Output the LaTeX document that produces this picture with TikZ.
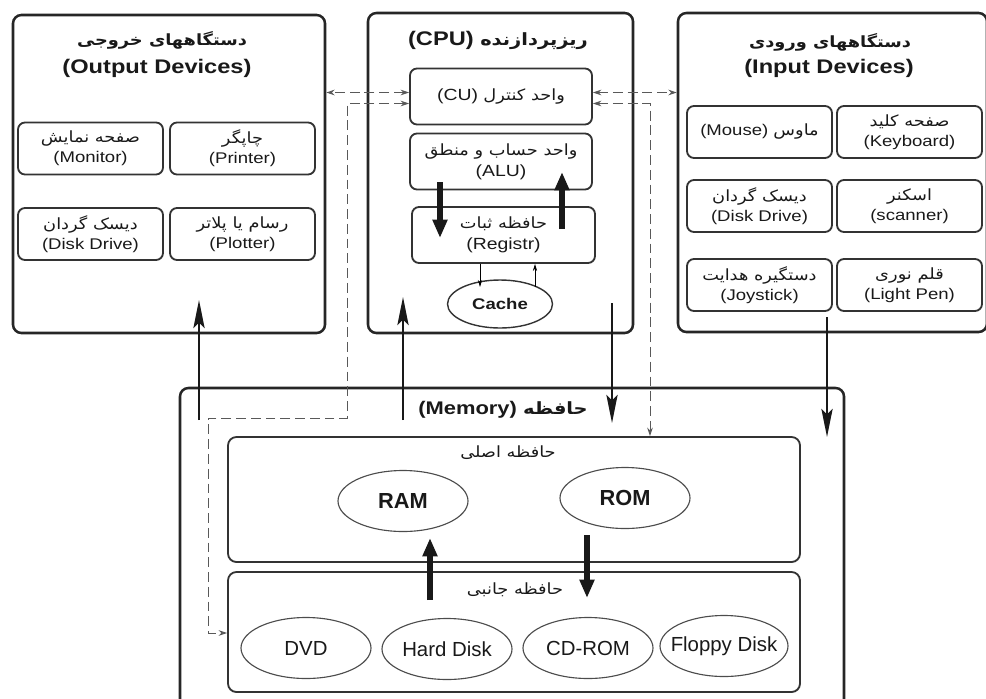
\documentclass[tikz,border=0pt]{standalone}
\usepackage{fontspec}
\setmainfont{Liberation Sans}
\newfontfamily\wide[FakeStretch=1.2]{Liberation Sans}
\newfontfamily\fa[Script=Arabic,FakeStretch=1.15]{DejaVu Sans}
\TeXXeTstate=1
\usetikzlibrary{shapes.geometric,arrows.meta}

\newdimen\pxu \pxu=0.025cm
\newcommand{\per}[1]{{\fa\beginR #1\endR}}

\tikzset{bigbox/.style={draw=black!85,line width=1.8pt,rounded corners=6pt}}
\tikzset{devbox/.style={draw=black!80,line width=1.3pt,rounded corners=5pt,align=center,inner sep=0pt,minimum height=52\pxu,font=\wide\fontsize{11}{14}\selectfont}}
\tikzset{cpubox/.style={devbox,minimum width=182\pxu,minimum height=56\pxu,font=\wide\fontsize{11.5}{15}\selectfont}}
\tikzset{membox/.style={draw=black!80,line width=1.3pt,rounded corners=6pt,minimum width=572\pxu}}
\tikzset{memell/.style={ellipse,draw=black!70,line width=0.8pt,inner xsep=-8pt,inner ysep=0pt,minimum width=130\pxu,minimum height=61\pxu,font=\fontsize{14.5}{16}\selectfont}}
\tikzset{ttl/.style={font=\wide\fontsize{14}{16}\selectfont\bfseries}}
\tikzset{bus/.style={line width=1.5pt,draw=black!90,-{Stealth[length=20pt,width=8pt,inset=4pt]}}}
\tikzset{fatarr/.style={line width=4pt,draw=black!90,-{Triangle[length=13pt,width=10pt]}}}
\tikzset{ctrl/.style={dash pattern=on 7pt off 3.5pt,line width=0.7pt,draw=black!65,{Stealth[length=6pt,width=4pt]}-{Stealth[length=6pt,width=4pt]}}}
\tikzset{thinarr/.style={line width=0.6pt,-{Stealth[length=5pt,width=3pt]}}}

\begin{document}
\begin{tikzpicture}[x=0.025cm,y=-0.025cm,text=black!90]
\useasboundingbox (0,0) rectangle (986,698);
\clip (0,0) rectangle (986,698);

% output devices
\node[bigbox,minimum width=312\pxu,minimum height=318\pxu] (outdev) at (169,174) {};
\node[ttl,font=\fontsize{11}{13}\selectfont\bfseries] (outfa) at (162,40) {\per{دستگاههای خروجی}};
\node[ttl] (outen) at (157,68) {(Output Devices)};
\node[devbox,minimum width=145\pxu] (mon) at (90.5,148.5) {\per{صفحه نمایش}\\(Monitor)};
\node[devbox,minimum width=145\pxu] (prn) at (242.5,148.5) {\per{چاپگر}\\(Printer)};
\node[devbox,minimum width=145\pxu] (ddo) at (90.5,234) {\per{دیسک گردان}\\(Disk Drive)};
\node[devbox,minimum width=145\pxu] (plt) at (242.5,234) {\per{رسام یا پلاتر}\\(Plotter)};

% cpu
\node[bigbox,minimum width=265\pxu,minimum height=320\pxu] (cpu) at (500.5,173) {};
\node[ttl] (cputt) at (498,40) {(CPU) {\fontsize{12}{14}\selectfont\per{ریزپردازنده}}};
\node[cpubox] (cu) at (501,96.5) {(CU) {\fontsize{11}{14}\selectfont\per{واحد کنترل}}};
\node[cpubox] (alu) at (501,161.5) {{\fontsize{11}{14}\selectfont\per{واحد حساب و منطق}}\\(ALU)};
\node[cpubox,minimum width=183\pxu] (reg) at (503.5,235) {{\fontsize{11}{14}\selectfont\per{حافظه ثبات}}\\(Registr)};
\node[ellipse,draw=black!80,line width=1pt,minimum width=105\pxu,minimum height=48\pxu,inner sep=0pt,font=\wide\fontsize{11}{12}\selectfont\bfseries] (cache) at (500,304) {Cache};
\coordinate (ar1) at (440,182);
\coordinate (ar2) at (440,238);
\coordinate (ar3) at (562,229);
\coordinate (ar4) at (562,172);
\draw[fatarr] (ar1) -- (ar2);
\draw[fatarr] (ar3) -- (ar4);
\coordinate (ca) at (480,287);
\coordinate (cb) at (535,287);
\draw[thinarr] (reg.south -| ca) -- (ca);
\draw[thinarr] (cb) -- (reg.south -| cb);

% input devices
\node[bigbox,minimum width=309\pxu,minimum height=319\pxu] (indev) at (832.5,172.5) {};
\node[ttl,font=\fontsize{11}{13}\selectfont\bfseries] (infa) at (830,42) {\per{دستگاههای ورودی}};
\node[ttl] (inen) at (829,68) {(Input Devices)};
\node[devbox,minimum width=145\pxu] (mouse) at (759.5,132) {(Mouse) \per{ماوس}};
\node[devbox,minimum width=145\pxu] (kbd) at (909.5,132) {\per{صفحه کلید}\\(Keyboard)};
\node[devbox,minimum width=145\pxu] (ddi) at (759.5,206) {\per{دیسک گردان}\\(Disk Drive)};
\node[devbox,minimum width=145\pxu] (scan) at (909.5,206) {\per{اسکنر}\\(scanner)};
\node[devbox,minimum width=145\pxu] (joy) at (759.5,285) {\per{دستگیره هدایت}\\(Joystick)};
\node[devbox,minimum width=145\pxu] (pen) at (909.5,285) {\per{قلم نوری}\\(Light Pen)};

% memory
\node[bigbox,minimum width=664\pxu,minimum height=332\pxu] (mem) at (512,554) {};
\node[font=\wide\fontsize{13}{15}\selectfont\bfseries] (memtt) at (503,410) {(Memory) {\fontsize{12}{14}\selectfont\per{حافظه}}};
\node[membox,minimum height=125\pxu] (main) at (514,499.5) {};
\node[font=\fontsize{11}{13}\selectfont] (mainlbl) at (508,453) {\per{حافظه اصلی}};
\node[memell,font=\fontsize{15.5}{17}\selectfont\bfseries] (ram) at (403,501) {RAM};
\node[memell,font=\fontsize{15.5}{17}\selectfont\bfseries] (rom) at (625,498) {ROM};
\node[membox,minimum height=120\pxu] (sec) at (514,632) {};
\node[font=\fontsize{11}{13}\selectfont] (seclbl) at (515,590) {\per{حافظه جانبی}};
\node[memell] (dvd) at (306,648) {DVD};
\node[memell] (hdd) at (447,649) {Hard Disk};
\node[memell] (cdrom) at (588,648) {CD-ROM};
\node[memell,minimum width=128\pxu] (fdd) at (724,646) {Floppy Disk};
\coordinate (rm1) at (430,600);
\coordinate (ro1) at (587,535);
\draw[fatarr] (rm1) -- (rm1 |- 0,538);
\draw[fatarr] (ro1) -- (ro1 |- 0,598);

% buses
\coordinate (m2o) at (199,420);
\coordinate (m2c) at (403,420);
\coordinate (c2m) at (612,303);
\coordinate (i2m) at (827,317);
\draw[bus] (m2o) -- (m2o |- 0,300);
\draw[bus] (m2c) -- (m2c |- 0,297);
\draw[bus] (c2m) -- (c2m |- 0,423);
\draw[bus] (i2m) -- (i2m |- 0,437);

% control lines
\coordinate (lc1) at (347,418);
\coordinate (lc2) at (208,633);
\coordinate (rc) at (650,104);
\draw[ctrl] ([yshift=4\pxu]cu.west) -- ([yshift=4\pxu]cu.west -| outdev.east);
\draw[ctrl] ([yshift=-7\pxu]cu.west) -| (lc1) -| (lc2) -- (lc2 -| sec.west);
\draw[ctrl] ([yshift=4\pxu]cu.east) -- ([yshift=4\pxu]cu.east -| indev.west);
\draw[ctrl] ([yshift=-7\pxu]cu.east) -| (rc |- main.north);
\end{tikzpicture}
\end{document}
